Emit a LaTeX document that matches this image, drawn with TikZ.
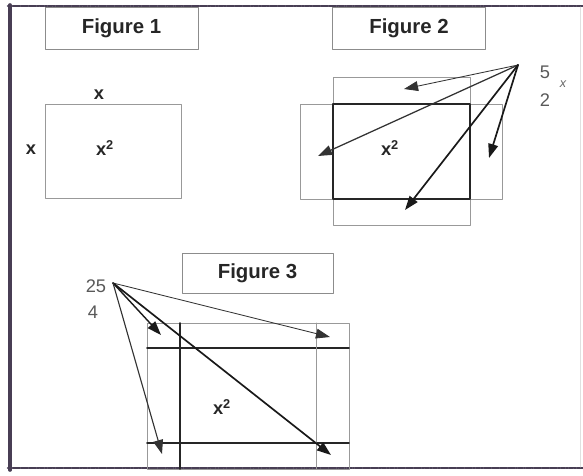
\documentclass[tikz,border=0pt]{standalone}
\usepackage{fontspec}
\setmainfont{Liberation Sans}
\usetikzlibrary{arrows.meta}
\definecolor{frameink}{RGB}{72,62,84}
\tikzset{
  titlebox/.style={draw=black!45,line width=0.6pt,minimum width=3.825cm,minimum height=1.05cm,inner sep=0pt,font=\fontsize{14.5}{17}\selectfont\bfseries,text=black!85},
  thinrect/.style={draw=black!40,line width=0.6pt},
  thickline/.style={draw=black!85,line width=1.3pt},
  varlabel/.style={font=\fontsize{13}{15}\selectfont\bfseries,text=black!85,inner sep=0pt},
  numlabel/.style={font=\fontsize{13}{15}\selectfont,text=black!65,inner sep=0pt},
  arrthin/.style={-{Triangle[length=10pt,width=7pt]},black!80,line width=0.6pt},
  arrthick/.style={-{Triangle[length=10pt,width=7pt]},black!90,line width=1.2pt},
}

\begin{document}
\begin{tikzpicture}[x=0.025cm,y=-0.025cm,line cap=round,line join=round]
\useasboundingbox (0,0) rectangle (583,475);
% frame
\draw[frameink,line width=2.6pt,dash pattern=on 1.2pt off 0.7pt] (10,5) -- (10,470);
\draw[frameink,line width=1.8pt,dash pattern=on 1.2pt off 0.7pt] (8,6) -- (583,6);
\draw[frameink,line width=1.8pt,dash pattern=on 1.2pt off 0.7pt] (8,468) -- (583,468);
\draw[black!12,line width=0.5pt] (580,7) -- (580,467);

% Figure 1
\node[titlebox] (title1) at (121.5,28) {Figure 1};
\draw[thinrect] (45,104) rectangle (181,198);
\node[varlabel] (top1) at (99,95) {x};
\node[varlabel] (left1) at (31,150) {x};
\node[varlabel] (area1) at (105,148) {x\textsuperscript{2}};

% Figure 2
\node[titlebox] (title2) at (409,28) {Figure 2};
\draw[thinrect] (333,77) rectangle (470,225);
\draw[thinrect] (300,104) rectangle (502,199);
\draw[thickline] (333,104) rectangle (470,199);
\node[varlabel] (area2) at (390,148) {x\textsuperscript{2}};
\node[numlabel] (five) at (545,72) {5};
\node[numlabel] (two) at (545,100) {2};
\node[font=\small\itshape,text=black!60,inner sep=0pt] (xfrac) at (563,84) {x};
\coordinate (src2) at (518,65);
\coordinate (top2) at (404,89);
\coordinate (left2) at (318,156);
\coordinate (bot2) at (405,210);
\coordinate (right2) at (489,158);
\draw[arrthin] (src2) -- (top2);
\draw[arrthin,line width=0.9pt] (src2) -- (left2);
\draw[arrthick] (src2) -- (bot2);
\draw[arrthick] (src2) -- (right2);

% Figure 3
\node[titlebox,minimum width=3.775cm,minimum height=1.0cm] (title3) at (257.5,273) {Figure 3};
\draw[thinrect] (147,323) rectangle (349,469);
\draw[thickline] (147,348) -- (349,348);
\draw[thickline] (147,443) -- (349,443);
\draw[thickline] (180,323) -- (180,469);
\draw[thinrect] (316,323) -- (316,469);
\node[varlabel] (area3) at (222,407) {x\textsuperscript{2}};
\node[numlabel] (tf) at (96,286) {25};
\node[numlabel] (four) at (93,312) {4};
\coordinate (src3) at (113,283);
\coordinate (tl3) at (161,335);
\coordinate (tr3) at (330,337);
\coordinate (br3) at (331,455);
\coordinate (bl3) at (162,454);
\draw[arrthick,line width=1.0pt] (src3) -- (tl3);
\draw[arrthin] (src3) -- (tr3);
\draw[arrthick] (src3) -- (br3);
\draw[arrthin,line width=0.8pt] (src3) -- (bl3);
\end{tikzpicture}
\end{document}
